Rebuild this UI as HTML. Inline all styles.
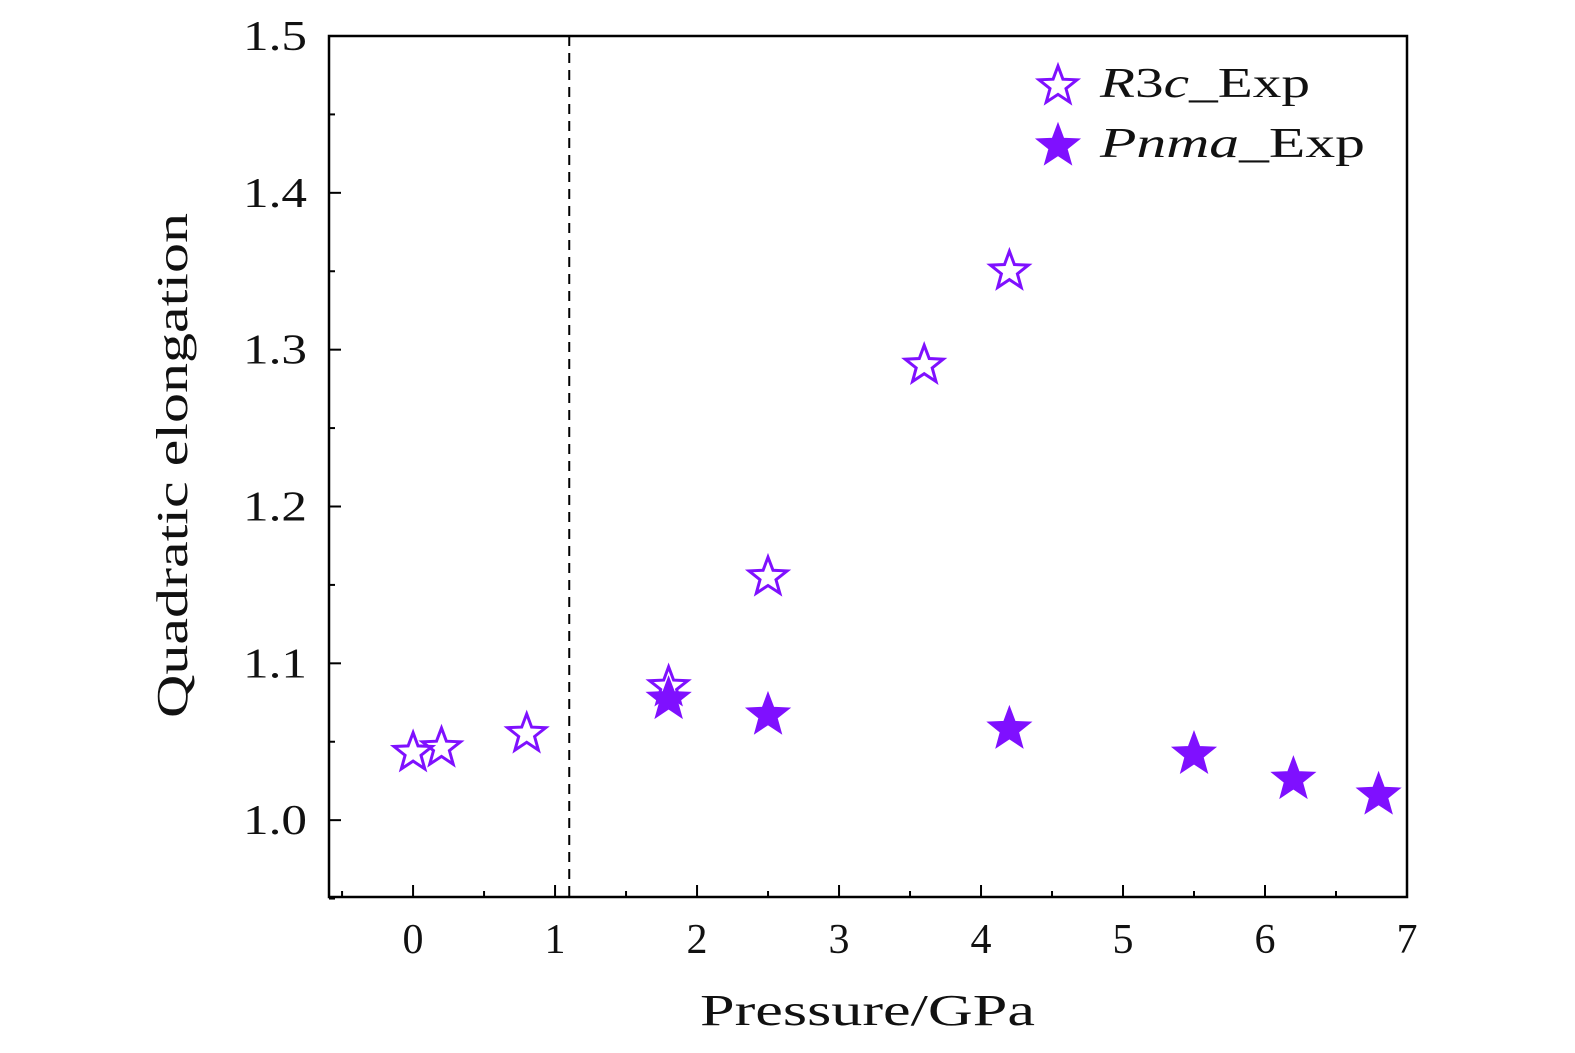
<!DOCTYPE html>
<html><head><meta charset="utf-8"><style>
body{margin:0;background:#fff}
svg{display:block}
text{font-family:"Liberation Serif",serif;fill:#111}
</style></head><body>
<svg id="chart" width="1575" height="1053" viewBox="0 0 1575 1053" xmlns="http://www.w3.org/2000/svg">
<g id="axes"></g>
<g id="marks"></g>
<g id="legend">
  <g>
    <path id="leg1" fill="none" stroke="#7f10ff" stroke-width="3"/>
    <text x="1100" y="97" font-size="42" textLength="210" lengthAdjust="spacingAndGlyphs"><tspan font-style="italic">R</tspan>3<tspan font-style="italic">c</tspan>_Exp</text>
  </g>
  <g>
    <path id="leg2" fill="#7f10ff" stroke="#7f10ff" stroke-width="3"/>
    <text x="1100" y="157" font-size="42" textLength="265" lengthAdjust="spacingAndGlyphs"><tspan font-style="italic">Pnma</tspan>_Exp</text>
  </g>
</g>
</svg>
<script>
const xTicks=[0,1,2,3,4,5,6,7];
const yTicks=[1.0,1.1,1.2,1.3,1.4,1.5];
const yTickLabels=["1.0","1.1","1.2","1.3","1.4","1.5"];
const r3cX=[0,0.2,0.8,1.8,2.5,3.6,4.2];
const r3cY=[1.043,1.046,1.055,1.085,1.155,1.29,1.35];
const pnmaX=[1.8,2.5,4.2,5.5,6.2,6.8];
const pnmaY=[1.077,1.067,1.058,1.042,1.026,1.016];
const transitionP=1.1;

const L=329,R=1407,T=36,B=897,xmin=-0.592,xmax=7,ymin=0.951,ymax=1.5;
const sx=v=>L+(v-xmin)/(xmax-xmin)*(R-L);
const sy=v=>B-(v-ymin)/(ymax-ymin)*(B-T);
const NS="http://www.w3.org/2000/svg";
const axes=document.getElementById('axes'),marks=document.getElementById('marks');
function mk(tag,attrs,parent){const e=document.createElementNS(NS,tag);for(const k in attrs)e.setAttribute(k,attrs[k]);parent.appendChild(e);return e;}
function star(cx,cy,r){let p='';for(let i=0;i<10;i++){const a=-Math.PI/2+i*Math.PI/5;const rr=i%2?r*0.42:r;p+=(i?'L':'M')+(cx+rr*Math.cos(a)).toFixed(1)+','+(cy+rr*Math.sin(a)).toFixed(1);}return p+'Z';}

const frame=mk('rect',{x:L,y:T,width:R-L,height:B-T,fill:'none',stroke:'#000','stroke-width':2.5},axes);



xTicks.forEach(v=>{
  const t=mk('line',{x1:sx(v),x2:sx(v),y1:B,y2:B-12,stroke:'#000','stroke-width':2},axes);
  
  
  const lb=mk('text',{x:sx(v),y:B+56,'font-size':42,'text-anchor':'middle'},axes);lb.textContent=v;
  
  
});
for(let v=-0.5;v<7;v+=1){
  const t=mk('line',{x1:sx(v),x2:sx(v),y1:B,y2:B-6,stroke:'#000','stroke-width':2},axes);
  
  
}
yTicks.forEach((v,i)=>{
  const t=mk('line',{x1:L,x2:L+12,y1:sy(v),y2:sy(v),stroke:'#000','stroke-width':2},axes);
  
  
  const lb=mk('text',{x:L-22,y:sy(v)+14,'font-size':42,'text-anchor':'end',textLength:64,lengthAdjust:'spacingAndGlyphs'},axes);lb.textContent=yTickLabels[i];
  
  
});
for(let v=0.95;v<1.5;v+=0.1){
  const t=mk('line',{x1:L,x2:L+6,y1:sy(v),y2:sy(v),stroke:'#000','stroke-width':2},axes);
  
  
}
const xt=mk('text',{x:700,y:1025,'font-size':44,textLength:335,lengthAdjust:'spacingAndGlyphs'},axes);xt.textContent='Pressure/GPa';


const yt=mk('text',{x:0,y:0,'font-size':44,textLength:505,lengthAdjust:'spacingAndGlyphs',transform:'translate(187,718) rotate(-90)'},axes);yt.textContent='Quadratic elongation';


const dl=mk('line',{x1:sx(transitionP),x2:sx(transitionP),y1:T,y2:B,stroke:'#000','stroke-width':2,'stroke-dasharray':'10,7'},axes);



r3cX.forEach((x,i)=>{
  const s=mk('path',{d:star(sx(x),sy(r3cY[i]),20),fill:'none',stroke:'#7f10ff','stroke-width':3},marks);
  
  
});
pnmaX.forEach((x,i)=>{
  const s=mk('path',{d:star(sx(x),sy(pnmaY[i]),20),fill:'#7f10ff',stroke:'#7f10ff','stroke-width':3},marks);
  
  
});
document.getElementById('leg1').setAttribute('d',star(1058,86,20));
document.getElementById('leg2').setAttribute('d',star(1058,146,20));
</script>
</body></html>
